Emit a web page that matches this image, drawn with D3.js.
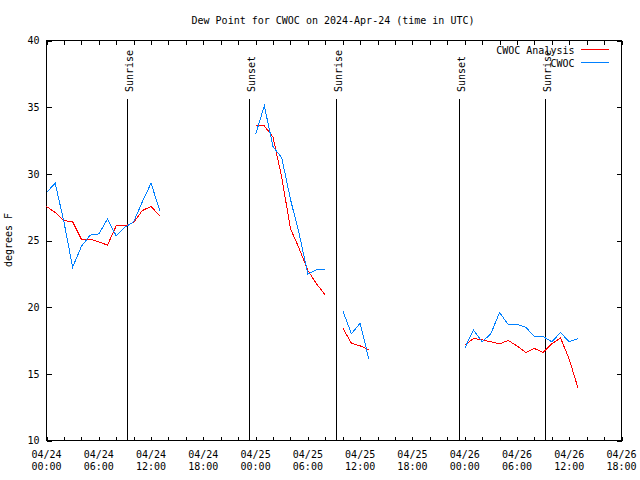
<!DOCTYPE html>
<html><head><meta charset="utf-8">
<script src="https://cdn.jsdelivr.net/npm/d3@7"></script>
<style>
body{margin:0;background:#fff}
text{font-family:"DejaVu Sans Mono","Liberation Mono",monospace;font-size:10px;fill:#000}
</style>
</head><body>
<svg id="chart" width="640" height="480"></svg>
<script>
// ---- data ----
const titleText = "Dew Point for CWOC on 2024-Apr-24 (time in UTC)";
const yLabelText = "degrees F";
const startTime = "2024-04-24T00:00:00Z";
const endTime = "2024-04-26T18:00:00Z";
// hourly observation times (hours after start)
const obsHours = [0,1,2,3,4,5,6,7,8,9,10,11,12,13,14,15,16,17,18,19,20,21,22,23,
  24,25,26,27,28,29,30,31,32,33,34,35,36,37,38,39,40,41,42,43,44,45,46,47,
  48,49,50,51,52,53,54,55,56,57,58,59,60,61];
const analysisValues = [27.55,27.1,26.5,26.4,25.1,25.1,24.9,24.65,26.1,26.1,26.35,27.25,27.55,26.85,
  null,null,null,null,null,null,null,null,null,null,
  33.65,33.6,32.75,29.75,25.9,24.4,22.75,21.75,20.9,
  null,
  18.45,17.3,17.1,16.8,
  null,null,null,null,null,null,null,null,null,null,
  17.15,17.65,17.55,17.4,17.25,17.5,17.1,16.6,16.9,16.6,17.25,17.7,16.1,13.95];
const cwocValues = [28.6,29.3,26.4,23.0,24.55,25.4,25.5,26.6,25.35,26.0,26.4,27.9,29.3,27.25,
  null,null,null,null,null,null,null,null,null,null,
  32.95,35.1,32.05,31.2,28.1,25.5,22.5,22.8,22.8,
  null,
  19.75,18.0,18.8,16.1,
  null,null,null,null,null,null,null,null,null,null,
  16.9,18.3,17.4,18.0,19.6,18.7,18.7,18.5,17.8,17.8,17.4,18.1,17.4,17.65];
const seriesNames = ["CWOC Analysis","CWOC"];
const seriesColors = ["#ff0000","#0080ff"];
const eventTimes = ["2024-04-24T09:18:00Z","2024-04-24T23:20:00Z","2024-04-25T09:17:00Z","2024-04-25T23:27:00Z","2024-04-26T09:18:00Z"];
const eventLabels = ["Sunrise","Sunset","Sunrise","Sunset","Sunrise"];
const yTicks = [10,15,20,25,30,35,40];

// ---- layout ----
const L = 46.5, R = 621.5, T = 40.5, B = 440.5;
const svg = d3.select("#chart");
const t0 = new Date(startTime), t1 = new Date(endTime);
const x = d3.scaleUtc().domain([t0, t1]).range([L, R]);
const y = d3.scaleLinear().domain([10, 40]).range([B, T]);
const timeOf = h => d3.utcHour.offset(t0, h);

// axes ticks
const majorX = d3.utcHour.every(6).range(t0, d3.utcHour.offset(t1, 1));
const allX = d3.utcHour.every(2).range(t0, d3.utcHour.offset(t1, 1));

const bottomAx = svg.append("g").attr("transform", `translate(0,${B})`)
  .call(d3.axisBottom(x).tickValues(allX).tickSize(-4).tickFormat(""));
const topAx = svg.append("g").attr("transform", `translate(0,${T})`)
  .call(d3.axisTop(x).tickValues(allX).tickSize(-4).tickFormat(""));
const leftAx = svg.append("g").attr("transform", `translate(${L},0)`)
  .call(d3.axisLeft(y).tickValues(yTicks).tickSize(-5).tickPadding(7).tickFormat(d3.format("d")));
const rightAx = svg.append("g").attr("transform", `translate(${R},0)`)
  .call(d3.axisRight(y).tickValues(yTicks).tickSize(-5).tickFormat(""));
[bottomAx, topAx, leftAx, rightAx].forEach(g => {
  g.select(".domain").remove();
  g.selectAll("line").attr("stroke", "#000").attr("shape-rendering", "crispEdges");
  g.selectAll("text").attr("font-family", null).attr("font-size", null).attr("fill", "#000");
});
leftAx.selectAll("text").attr("dy", null).attr("dominant-baseline", null)
  .attr("y", 3.2);

// x tick labels (two lines)
const fmtDate = d3.utcFormat("%m/%d"), fmtTime = d3.utcFormat("%H:%M");
const xl = svg.append("g").selectAll("text").data(majorX).join("text")
  .attr("text-anchor", "middle")
  .attr("transform", d => `translate(${x(d)},0)`);
xl.append("tspan").attr("x", 0).attr("y", 457.5).text(d => fmtDate(d));
xl.append("tspan").attr("x", 0).attr("y", 470).text(d => fmtTime(d));

// border
svg.append("rect").attr("x", L).attr("y", T).attr("width", R - L).attr("height", B - T)
  .attr("fill", "none").attr("stroke", "#000").attr("shape-rendering", "crispEdges");

// event lines
const lineTop = 99;
const ev = svg.append("g").selectAll("g").data(eventTimes.map((t, i) => ({t: new Date(t), label: eventLabels[i]})))
  .join("g");
ev.append("line")
  .attr("x1", d => Math.floor(x(d.t)) + 0.5).attr("x2", d => Math.floor(x(d.t)) + 0.5)
  .attr("y1", y(10)).attr("y2", lineTop)
  .attr("stroke", "#000").attr("shape-rendering", "crispEdges");
ev.append("text")
  .attr("transform", d => `translate(${Math.floor(x(d.t)) + 5.5},92) rotate(-90)`)
  .attr("text-anchor", "start").text(d => d.label);

// series
const series = [analysisValues, cwocValues];
const line = d3.line()
  .defined(d => d.v !== null)
  .x(d => x(timeOf(d.h))).y(d => y(d.v));
series.forEach((vals, i) => {
  const pts = obsHours.map((h, k) => ({h, v: vals[k]}));
  svg.append("path").datum(pts).attr("d", line)
    .attr("fill", "none").attr("stroke", seriesColors[i]).attr("stroke-width", 1)
    .attr("shape-rendering", "crispEdges");
});

// legend
const lg = svg.append("g");
seriesNames.forEach((n, i) => {
  const yy = 49.5 + i * 13;
  lg.append("text").attr("x", 574.5).attr("y", yy + 4.5).attr("text-anchor", "end").text(n);
  lg.append("line").attr("x1", 581).attr("x2", 609).attr("y1", yy).attr("y2", yy)
    .attr("stroke", seriesColors[i]).attr("shape-rendering", "crispEdges");
});

// title & y label
svg.append("text").attr("x", 333).attr("y", 24).attr("text-anchor", "middle").text(titleText);
svg.append("text").attr("transform", "translate(11.6,240) rotate(-90)")
  .attr("text-anchor", "middle").text(yLabelText);
</script>
</body></html>
